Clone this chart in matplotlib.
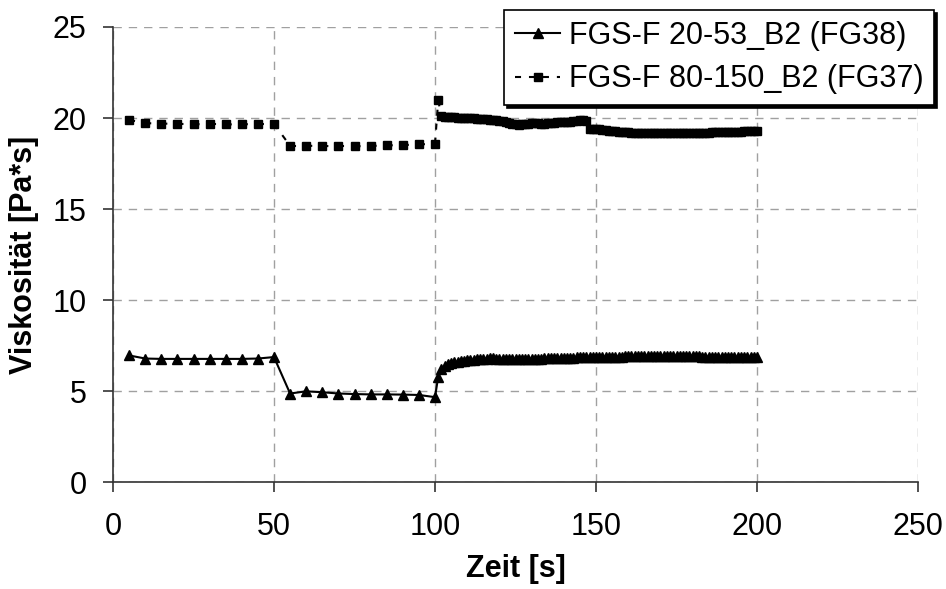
import matplotlib
matplotlib.use("Agg")
import matplotlib.pyplot as plt
from matplotlib.lines import Line2D

plt.rcParams['font.family'] = ['Liberation Sans', 'DejaVu Sans']

# time grid: sparse every 5 s up to 100 s, then every 1 s to 200 s
t = list(range(5, 101, 5)) + list(range(101, 201))

s1_label = "FGS-F 20-53_B2 (FG38)"
s2_label = "FGS-F 80-150_B2 (FG37)"

s1 = [
    # 5 .. 100 step 5
    6.97, 6.80, 6.78, 6.78, 6.78, 6.78, 6.78, 6.78, 6.80, 6.88,
    4.88, 5.00, 4.95, 4.88, 4.85, 4.83, 4.83, 4.82, 4.80, 4.68,
    # 101 .. 200
    5.80, 6.20, 6.40, 6.50, 6.55, 6.60, 6.62, 6.65, 6.67, 6.70,
    6.72, 6.73, 6.75, 6.76, 6.78, 6.80, 6.82, 6.83, 6.80, 6.78,
    6.76, 6.75, 6.75, 6.76, 6.76, 6.77, 6.77, 6.78, 6.78, 6.79,
    6.79, 6.80, 6.80, 6.81, 6.81, 6.82, 6.82, 6.83, 6.83, 6.84,
    6.84, 6.85, 6.85, 6.86, 6.86, 6.87, 6.87, 6.88, 6.88, 6.88,
    6.89, 6.89, 6.90, 6.90, 6.90, 6.91, 6.91, 6.91, 6.92, 6.92,
    6.92, 6.92, 6.93, 6.93, 6.93, 6.93, 6.93, 6.93, 6.93, 6.93,
    6.93, 6.93, 6.93, 6.93, 6.93, 6.93, 6.92, 6.92, 6.92, 6.92,
    6.92, 6.92, 6.91, 6.91, 6.90, 6.90, 6.90, 6.89, 6.89, 6.88,
    6.88, 6.88, 6.87, 6.87, 6.87, 6.86, 6.86, 6.86, 6.86, 6.87,
]

s2 = [
    # 5 .. 100 step 5
    19.90, 19.72, 19.70, 19.68, 19.67, 19.65, 19.65, 19.66, 19.67, 19.68,
    18.48, 18.48, 18.47, 18.45, 18.45, 18.47, 18.50, 18.52, 18.55, 18.60,
    # 101 .. 200
    20.97, 20.10, 20.08, 20.06, 20.05, 20.04, 20.03, 20.02, 20.00, 20.00,
    19.99, 19.98, 19.97, 19.96, 19.95, 19.94, 19.92, 19.90, 19.88, 19.86,
    19.82, 19.78, 19.72, 19.68, 19.65, 19.64, 19.65, 19.68, 19.70, 19.72,
    19.73, 19.72, 19.70, 19.70, 19.72, 19.74, 19.75, 19.76, 19.76, 19.77,
    19.78, 19.80, 19.83, 19.86, 19.88, 19.90, 19.85, 19.42, 19.40, 19.42,
    19.40, 19.36, 19.32, 19.30, 19.28, 19.27, 19.25, 19.23, 19.22, 19.21,
    19.20, 19.20, 19.20, 19.20, 19.19, 19.19, 19.19, 19.19, 19.19, 19.19,
    19.19, 19.18, 19.18, 19.18, 19.18, 19.18, 19.18, 19.18, 19.18, 19.18,
    19.18, 19.19, 19.20, 19.20, 19.20, 19.21, 19.21, 19.21, 19.21, 19.22,
    19.22, 19.23, 19.24, 19.25, 19.26, 19.27, 19.27, 19.28, 19.28, 19.28,
]

x_ticks = [0, 50, 100, 150, 200, 250]
y_ticks = [0, 5, 10, 15, 20, 25]

FS = 22
DASH = (2.9, 3.8)

fig = plt.figure(figsize=(9.46, 5.89), dpi=100)
ax = fig.add_axes([113/946, 1 - 482.4/589, (918 - 113)/946, (482.4 - 27)/589])

# series 1: solid line with triangles
ax.plot(t, s1, color='black', lw=1.5, marker='^', ms=6.5, label=s1_label, zorder=3)

# series 2: dashed line whose pattern restarts on every segment, plus squares
for i in range(len(t) - 1):
    ax.plot(t[i:i + 2], s2[i:i + 2], color='black', lw=1.5,
            linestyle=(0, DASH), zorder=3)
ax.plot(t, s2, color='black', ls='none', marker='s', ms=5.6, zorder=4)

ax.set_xlim(0, 250)
ax.set_ylim(0, 25)
ax.set_xticks(x_ticks)
ax.set_yticks(y_ticks)
ax.tick_params(axis='both', direction='out', length=7, width=1.2, color='#333333',
               labelsize=FS)
ax.tick_params(axis='y', pad=12)
ax.tick_params(axis='x', pad=14)
ax.grid(True, color='#a0a0a0', linestyle=(0, (6, 5)), linewidth=1.0)
ax.set_axisbelow(True)
for side in ['top', 'right']:
    ax.spines[side].set_visible(False)
for side in ['left', 'bottom']:
    ax.spines[side].set_color('#333333')
    ax.spines[side].set_linewidth(1.2)

ax.set_xlabel("Zeit [s]", fontsize=FS, fontweight='bold', labelpad=9)
ax.set_ylabel("Viskosität [Pa*s]", fontsize=FS, fontweight='bold', labelpad=10)

handles = [
    Line2D([], [], color='black', lw=1.5, marker='^', ms=6.5),
    Line2D([], [], color='black', lw=1.5, linestyle=(0, DASH), marker='s', ms=5.6),
]
leg = ax.legend(handles, [s1_label, s2_label],
                loc='upper right', bbox_to_anchor=(934/946, 1 - 10/589),
                bbox_transform=fig.transFigure, borderaxespad=0,
                fontsize=FS, frameon=True, fancybox=False,
                shadow={'color': 'black', 'alpha': 1},
                handlelength=1.5, handletextpad=0.27, labelspacing=0.45,
                borderpad=0.35, framealpha=1)
leg.get_frame().set_edgecolor('black')
leg.get_frame().set_linewidth(1.2)
leg.set_zorder(10)

fig.savefig("out.png", dpi=100)
